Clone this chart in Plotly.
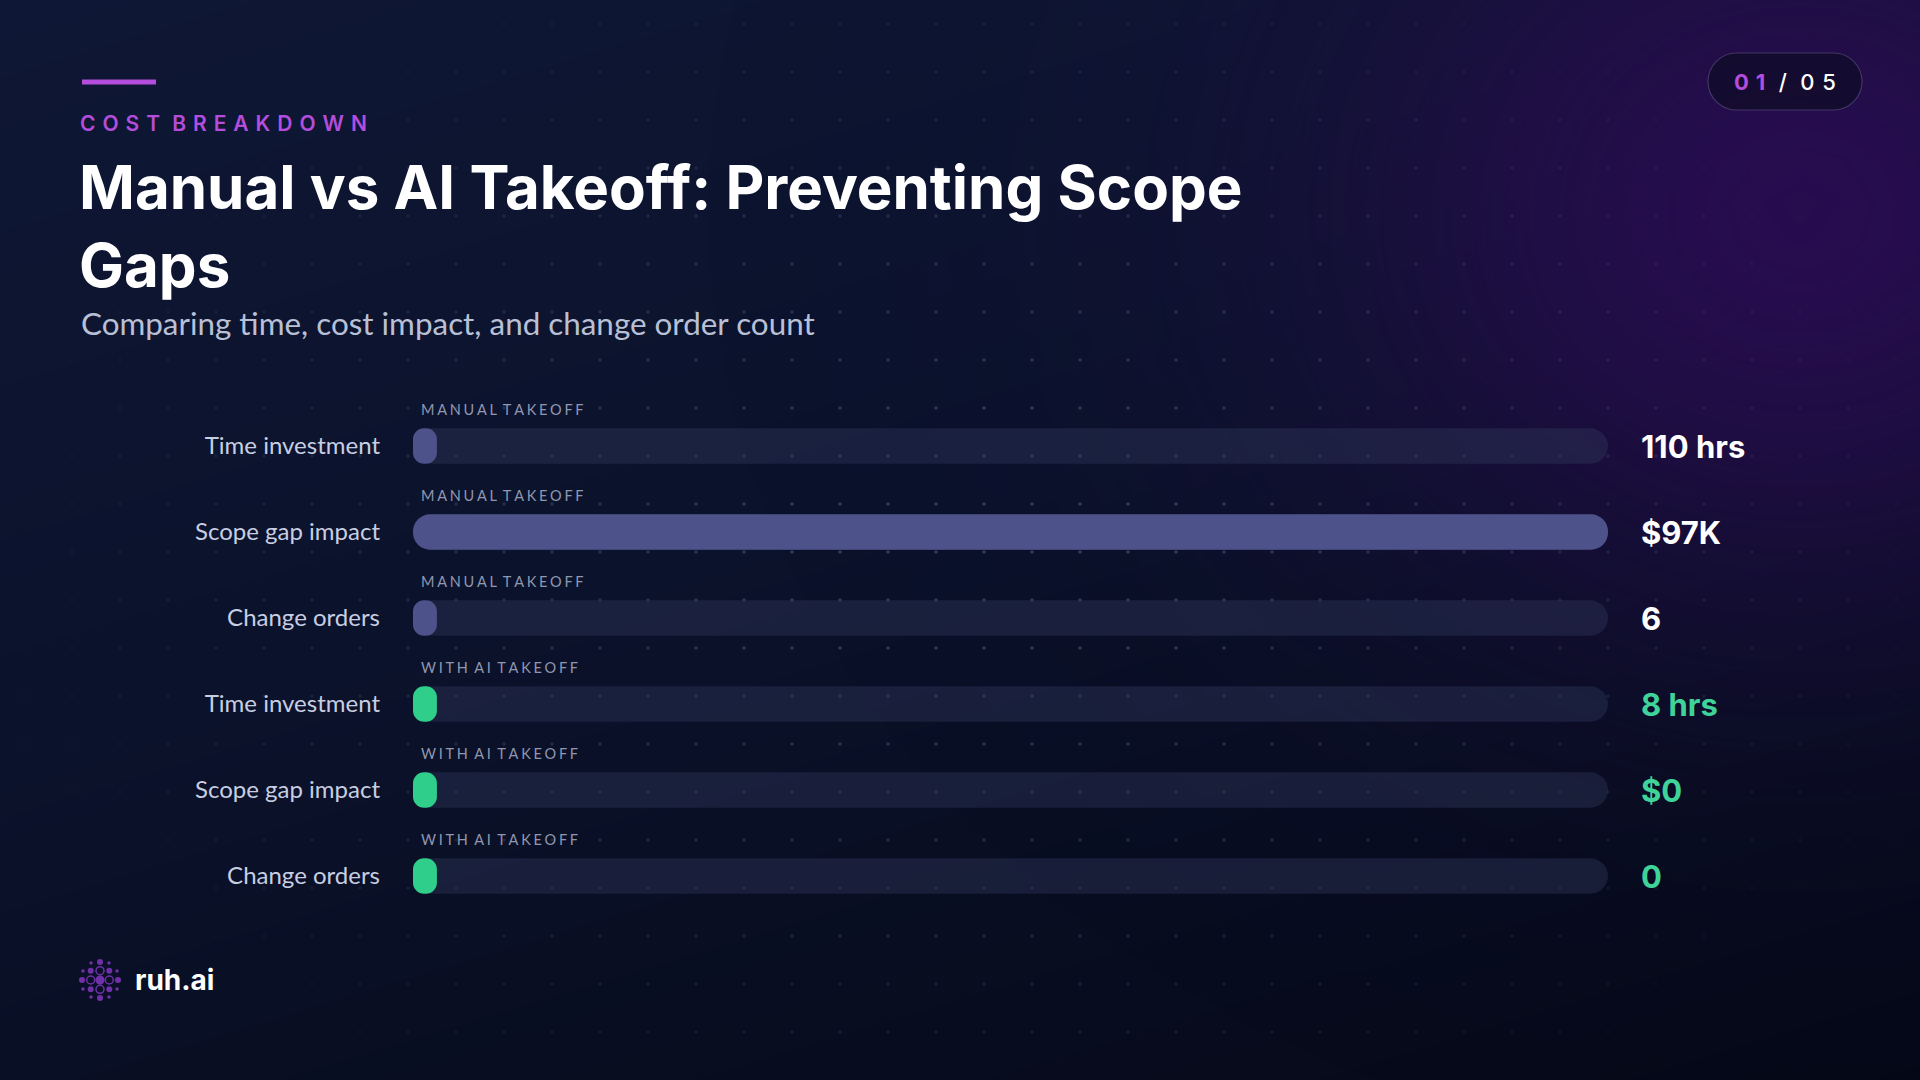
import numpy as np
import plotly.graph_objects as go

# ---------------- data ----------------
categories = ["Time investment", "Scope gap impact", "Change orders",
              "Time investment", "Scope gap impact", "Change orders"]
groups = ["MANUAL TAKEOFF", "MANUAL TAKEOFF", "MANUAL TAKEOFF",
          "WITH AI TAKEOFF", "WITH AI TAKEOFF", "WITH AI TAKEOFF"]
values = [110, 97000, 6, 8, 0, 0]
value_labels = ["110 hrs", "$97K", "6", "8 hrs", "$0", "0"]

W, H = 1920, 1080
MANUAL_FILL = "#4d528a"
AI_FILL = "#2fcf8b"
AI_TEXT = "#3fd39a"
TRACK = "rgba(48,55,90,0.42)"
PURPLE = "#b44ddb"

def spaced(s, sep="\u2009"):
    out = []
    for word in s.split(" "):
        out.append(sep.join(list(word)))
    return (" " + sep).join(out)

fig = go.Figure()

# ---------------- background (pixel axis x/y) ----------------
gx = np.arange(0, W + 41, 40)
gy = np.arange(0, H + 41, 40)
XX, YY = np.meshgrid(gx, gy)
base_t = 0.35 * XX / W + 0.65 * YY / H
base_t = (base_t - base_t.min()) / (base_t.max() - base_t.min())
fig.add_trace(go.Heatmap(x=gx, y=gy, z=base_t, zsmooth="best", showscale=False,
                         colorscale=[[0, "#0e1735"], [0.45, "#0b122b"], [1, "#050816"]],
                         hoverinfo="skip", xaxis="x", yaxis="y"))
glow = np.exp(-(((XX - 1800) / 440.0) ** 2 + ((YY - 210) / 380.0) ** 2))
fig.add_trace(go.Heatmap(x=gx, y=gy, z=glow, zsmooth="best", showscale=False, zmin=0, zmax=1,
                         colorscale=[[0, "rgba(42,12,82,0)"], [1, "rgba(42,12,82,0.92)"]],
                         hoverinfo="skip", xaxis="x", yaxis="y"))

# dot grid
dx = np.arange(24, W, 48)
dy = np.arange(24, H, 48)
DX, DY = np.meshgrid(dx, dy)
DX = DX.ravel(); DY = DY.ravel()
dist = np.sqrt((DX - 980) ** 2 + ((DY - 560) * 1.45) ** 2)
alpha = 0.26 * np.clip(1.2 - dist / 900.0, 0, 1)
dot_colors = [f"rgba(165,175,215,{a:.3f})" for a in alpha]
fig.add_trace(go.Scatter(x=DX, y=DY, mode="markers",
                         marker=dict(size=3.5, color=dot_colors, line=dict(width=0)),
                         hoverinfo="skip", xaxis="x", yaxis="y", showlegend=False))

# logo icon
logo_pts = [
    (100, 980, 9, "filled"),
    (90.7, 980, 8, "ring"), (109.3, 980, 8, "ring"), (100, 970.7, 8, "ring"), (100, 989.3, 8, "ring"),
    (90.7, 970.7, 6, "filled"), (109.3, 970.7, 6, "filled"), (90.7, 989.3, 6, "filled"), (109.3, 989.3, 6, "filled"),
    (100, 962, 6, "filled"), (100, 998, 6, "filled"), (82, 980, 6, "filled"), (118, 980, 6, "filled"),
    (91, 963, 3.5, "filled"), (109, 963, 3.5, "filled"), (91, 997, 3.5, "filled"), (109, 997, 3.5, "filled"),
    (83, 971, 3.5, "filled"), (83, 989, 3.5, "filled"), (117, 971, 3.5, "filled"), (117, 989, 3.5, "filled"),
]
for kind in ("filled", "ring"):
    pts = [p for p in logo_pts if p[3] == kind]
    fig.add_trace(go.Scatter(
        x=[p[0] for p in pts], y=[p[1] for p in pts], mode="markers",
        marker=dict(size=[p[2] for p in pts],
                    color="#9b3fe0" if kind == "filled" else "rgba(0,0,0,0)",
                    line=dict(width=1.5 if kind == "ring" else 0, color="#9b3fe0"),
                    symbol="circle"),
        hoverinfo="skip", xaxis="x", yaxis="y", showlegend=False))

# ---------------- bars (axis x2/y2) ----------------
M = max(values)
MIN_FRAC = 0.02
rows = list(range(len(values)))
disp = [max(v, MIN_FRAC * M) for v in values]
fills = [MANUAL_FILL if g.startswith("MANUAL") else AI_FILL for g in groups]
BW = 0.41

fig.add_trace(go.Bar(orientation="h", y=rows, x=[M] * len(rows), base=[0] * len(rows),
                     width=BW, marker=dict(color=TRACK, line=dict(width=0), cornerradius="50%"),
                     hoverinfo="skip", xaxis="x2", yaxis="y2", showlegend=False))
fig.add_trace(go.Bar(orientation="h", y=rows, x=disp, base=[0] * len(rows),
                     width=BW, marker=dict(color=fills, line=dict(width=0), cornerradius="50%"),
                     hoverinfo="skip", xaxis="x2", yaxis="y2", showlegend=False))

annotations = []
for i, (g, lab) in enumerate(zip(groups, value_labels)):
    annotations.append(dict(xref="x2", yref="y2", x=0, y=i - 0.42, xanchor="left", yanchor="middle",
                            xshift=6, text=spaced(g, "\u2009\u200a"), showarrow=False,
                            font=dict(family="Lato", size=14.5, color="#9097b0")))
    annotations.append(dict(xref="x2", yref="y2", x=M, y=i, xanchor="left", yanchor="middle",
                            xshift=31, text=lab, showarrow=False,
                            font=dict(family="Inter", size=31, weight=700,
                                      color="#ffffff" if g.startswith("MANUAL") else AI_TEXT)))

# ---------------- header text ----------------
def px_ann(x, y, text, font, xanchor="left", yanchor="middle", align="left"):
    return dict(xref="x", yref="y", x=x, y=y, text=text, showarrow=False, align=align,
                xanchor=xanchor, yanchor=yanchor, font=font)

annotations.append(px_ann(78, 123, spaced("COST BREAKDOWN", "\u2009\u2009"),
                          dict(family="Inter", size=21, weight=600, color=PURPLE)))
annotations.append(px_ann(77, 226, "Manual vs AI Takeoff: Preventing Scope<br>Gaps",
                          dict(family="Inter", size=60, weight=700, color="#ffffff")))
annotations.append(px_ann(79, 323, "Comparing time, cost impact, and change order count",
                          dict(family="Lato", size=31.4, color="#b9c0d6")))
annotations.append(px_ann(1785, 82,
                          "<span style='color:%s'><b>0\u2009\u20091</b></span>\u2009\u2009 /\u2009\u2009 0\u2009\u20095" % PURPLE,
                          dict(family="Inter", size=22, weight=500, color="#ffffff"), xanchor="center"))
annotations.append(px_ann(133, 980, "ruh.ai", dict(family="Inter", size=28, weight=700, color="#ffffff")))

# ---------------- shapes ----------------
shapes = []
shapes.append(dict(type="line", xref="x", yref="y", x0=82, x1=156, y0=82, y1=82,
                   line=dict(color=PURPLE, width=5)))
x0, x1, y0, y1 = 1708, 1862, 53, 110
r = (y1 - y0) / 2
k = 0.5523 * r
pill = (f"M {x0 + r},{y0} L {x1 - r},{y0} "
        f"C {x1 - r + k},{y0} {x1},{y0 + r - k} {x1},{y0 + r} "
        f"C {x1},{y0 + r + k} {x1 - r + k},{y1} {x1 - r},{y1} "
        f"L {x0 + r},{y1} "
        f"C {x0 + r - k},{y1} {x0},{y0 + r + k} {x0},{y0 + r} "
        f"C {x0},{y0 + r - k} {x0 + r - k},{y0} {x0 + r},{y0} Z")
shapes.append(dict(type="path", xref="x", yref="y", path=pill,
                   fillcolor="rgba(12,12,34,0.65)", line=dict(color="rgba(170,160,210,0.28)", width=1.2)))

fig.update_layout(
    width=W, height=H,
    margin=dict(l=0, r=0, t=0, b=0),
    paper_bgcolor="#0a1029", plot_bgcolor="rgba(0,0,0,0)",
    barmode="overlay", showlegend=False,
    xaxis=dict(domain=[0, 1], range=[0, W], visible=False, fixedrange=True),
    yaxis=dict(domain=[0, 1], range=[H, 0], visible=False, fixedrange=True),
    xaxis2=dict(domain=[413 / W, 1608 / W], range=[0, M], visible=False, anchor="y2", fixedrange=True),
    yaxis2=dict(domain=[1 - 919 / H, 1 - 403 / H], range=[5.5, -0.5], anchor="x2",
                tickvals=rows, ticktext=categories, showgrid=False, zeroline=False, showline=False,
                ticks="", ticklabelstandoff=32,
                tickfont=dict(family="Lato", size=24, color="#c8cee2"), fixedrange=True),
    annotations=annotations, shapes=shapes,
    hovermode=False,
)

fig.write_html("out.html")
